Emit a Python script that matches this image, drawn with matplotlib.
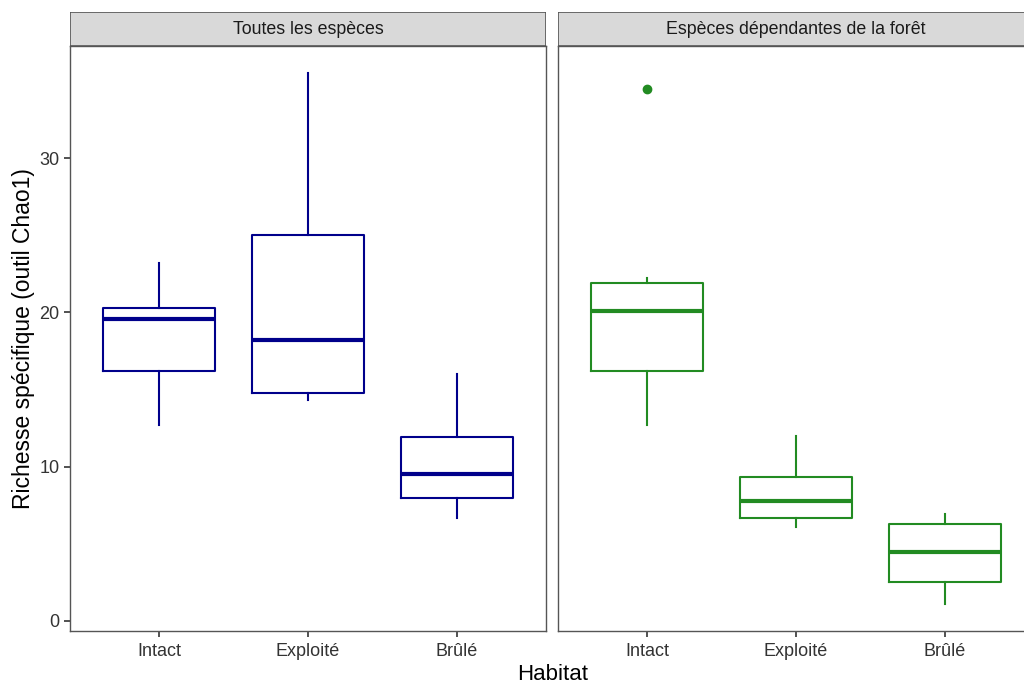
import matplotlib.pyplot as plt
from matplotlib.patches import Rectangle

plt.rcParams['font.family'] = ['Liberation Sans', 'DejaVu Sans']

habitats = ["Intact", "Exploité", "Brûlé"]
panels = ["Toutes les espèces", "Espèces dépendantes de la forêt"]
colors = ["#00008B", "#228B22"]

# (whislo, q1, median, q3, whishi) per habitat
all_species = [
    (12.7, 16.2, 19.6, 20.3, 23.2),
    (14.3, 14.8, 18.2, 25.0, 35.5),
    (6.7, 8.0, 9.5, 11.9, 16.0),
]
forest_species = [
    (12.7, 16.2, 20.1, 21.9, 22.2),
    (6.1, 6.7, 7.8, 9.3, 12.0),
    (1.1, 2.5, 4.5, 6.3, 6.9),
]
forest_outliers = [[34.5], [], []]
all_outliers = [[], [], []]

data = [(all_species, all_outliers), (forest_species, forest_outliers)]

fig = plt.figure(figsize=(10.24, 6.85), dpi=100)
W, H = 1024, 685
lefts = [70, 558]
pw = 476
top, bottom, strip_top = 46, 631, 12

for i, (stats_in, outl) in enumerate(data):
    ax = fig.add_axes([lefts[i] / W, 1 - bottom / H, pw / W, (bottom - top) / H])
    stats = []
    for (lo, q1, med, q3, hi), fl in zip(stats_in, outl):
        stats.append(dict(whislo=lo, q1=q1, med=med, q3=q3, whishi=hi, fliers=fl))
    c = colors[i]
    ax.bxp(stats, positions=[1, 2, 3], widths=0.75, showcaps=False,
           boxprops=dict(color=c, linewidth=1.5),
           whiskerprops=dict(color=c, linewidth=1.5),
           medianprops=dict(color=c, linewidth=3),
           flierprops=dict(marker='o', markerfacecolor=c, markeredgecolor=c,
                           markersize=6))
    ax.set_xlim(0.4, 3.6)
    ax.set_ylim(-0.65, 37.26)
    ax.set_xticks([1, 2, 3])
    ax.set_xticklabels(habitats, fontsize=13, color="#4D4D4D")
    ax.set_yticks([0, 10, 20, 30])
    if i == 0:
        ax.set_yticklabels(["0", "10", "20", "30"], fontsize=13, color="#4D4D4D")
        ax.set_ylabel("Richesse spécifique (outil Chao1)", fontsize=16.5, labelpad=3)
    else:
        ax.tick_params(axis='y', left=False, labelleft=False)
    ax.tick_params(colors="#333333", width=1.2, length=4)
    ax.tick_params(axis='x', pad=5)
    for s in ax.spines.values():
        s.set_color("#555555")
        s.set_linewidth(1)
    # facet strip
    sax = fig.add_axes([lefts[i] / W, 1 - top / H, pw / W, (top - strip_top) / H])
    sax.add_patch(Rectangle((0, 0), 1, 1, facecolor="#D9D9D9", edgecolor="#555555",
                            linewidth=1.2, transform=sax.transAxes))
    sax.set_axis_off()
    sax.text(0.5, 0.5, panels[i], ha="center", va="center", fontsize=12.8,
             color="#1A1A1A", transform=sax.transAxes)

fig.text(553 / W, 1 - 674 / H, "Habitat", ha="center", va="center", fontsize=16)

fig.savefig("out.png", dpi=100)
